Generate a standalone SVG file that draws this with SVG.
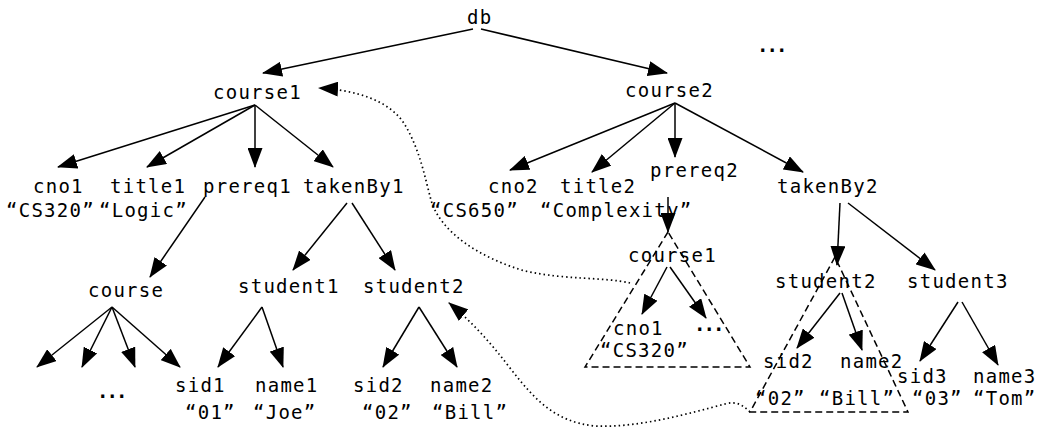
<svg xmlns="http://www.w3.org/2000/svg" width="1043" height="436" viewBox="0 0 1043 436">
<style>
text{font-family:"DejaVu Sans Mono","Liberation Mono",monospace;font-size:19px;letter-spacing:1.26px;fill:#000}
.dots{letter-spacing:-2px;font-weight:bold}
.e{stroke:#000;stroke-width:1.5;fill:none;marker-end:url(#ah)}
.dt{stroke:#000;stroke-width:1.7;fill:none;stroke-dasharray:1.5 3;marker-end:url(#ah)}
.tri{stroke:#000;stroke-width:1.5;fill:none;stroke-dasharray:7 4}
</style>
<defs>
<marker id="ah" viewBox="0 0 20 15" markerWidth="20" markerHeight="15" refX="19" refY="7.5" orient="auto" markerUnits="userSpaceOnUse">
<path d="M0,0 L20,7.5 L0,15 z" fill="#000"/>
</marker>
</defs>
<rect width="1043" height="436" fill="#fff"/>
<g id="connectors">
<line class="e" x1="473" y1="29" x2="263" y2="73"/>
<line class="e" x1="481" y1="29" x2="667" y2="73"/>
<line class="e" x1="255" y1="105" x2="58" y2="167"/>
<line class="e" x1="255" y1="105" x2="147" y2="167"/>
<line class="e" x1="255" y1="105" x2="255" y2="167"/>
<line class="e" x1="255" y1="105" x2="333" y2="167"/>
<line class="e" x1="675" y1="103" x2="510" y2="170"/>
<line class="e" x1="675" y1="103" x2="592" y2="172"/>
<line class="e" x1="675" y1="103" x2="675" y2="157"/>
<line class="e" x1="675" y1="103" x2="803" y2="172"/>
<line class="e" x1="205" y1="197" x2="150" y2="277"/>
<line class="e" x1="347" y1="203" x2="293" y2="270"/>
<line class="e" x1="352" y1="203" x2="395" y2="270"/>
<line class="e" x1="112" y1="307" x2="37" y2="367"/>
<line class="e" x1="112" y1="307" x2="82" y2="367"/>
<line class="e" x1="112" y1="307" x2="135" y2="367"/>
<line class="e" x1="112" y1="307" x2="180" y2="367"/>
<line class="e" x1="262" y1="307" x2="218" y2="367"/>
<line class="e" x1="262" y1="307" x2="283" y2="367"/>
<line class="e" x1="419" y1="307" x2="383" y2="367"/>
<line class="e" x1="419" y1="307" x2="457" y2="367"/>
<line class="e" x1="668" y1="197" x2="668" y2="232"/>
<line class="e" x1="667" y1="267" x2="642" y2="314"/>
<line class="e" x1="670" y1="267" x2="706" y2="318"/>
<line class="e" x1="840" y1="203" x2="837" y2="265"/>
<line class="e" x1="848" y1="203" x2="935" y2="270"/>
<line class="e" x1="840" y1="293" x2="797" y2="348"/>
<line class="e" x1="842" y1="293" x2="862" y2="350"/>
<line class="e" x1="958" y1="302" x2="920" y2="361"/>
<line class="e" x1="962" y1="302" x2="998" y2="365"/>
<path class="dt" d="M630,283 C605,277 565,280 525,271 C480,258 440,232 431,200 C425,178 420,150 405,125 C390,100 355,90 319,88"/>
<path class="dt" d="M750,412 C742,404 735,401 725,404 C690,413 640,428 595,426 C555,422 535,400 510,368 C490,342 472,322 449,303"/>
</g>
<g id="subtrees">
<polygon class="tri" points="668,232 585,367 750,367"/>
<polygon class="tri" points="835,257 750,412 908,412"/>
</g>
<g id="db"><text x="467" y="24">db</text></g>
<g id="more"><text class="dots" x="757" y="52">...</text></g>
<g id="course1"><text x="213" y="99">course1</text></g>
<g id="course2"><text x="625" y="97">course2</text></g>
<g id="cno1"><text x="33" y="193">cno1</text><text x="6" y="217">“CS320”</text></g>
<g id="title1"><text x="110" y="193">title1</text><text x="99" y="217">“Logic”</text></g>
<g id="prereq1"><text x="203" y="193">prereq1</text></g>
<g id="takenBy1"><text x="303" y="193">takenBy1</text></g>
<g id="cno2"><text x="488" y="193">cno2</text><text x="430" y="217">“CS650”</text></g>
<g id="title2"><text x="560" y="193">title2</text><text x="540" y="217">“Complexity”</text></g>
<g id="prereq2"><text x="650" y="177">prereq2</text></g>
<g id="takenBy2"><text x="777" y="193">takenBy2</text></g>
<g id="course"><text x="88" y="297">course</text><text class="dots" x="97" y="398">...</text></g>
<g id="student1"><text x="238" y="293">student1</text></g>
<g id="student2a"><text x="363" y="293">student2</text></g>
<g id="sid1"><text x="175" y="392">sid1</text><text x="185" y="419">“01”</text></g>
<g id="name1"><text x="255" y="392">name1</text><text x="253" y="419">“Joe”</text></g>
<g id="sid2a"><text x="353" y="392">sid2</text><text x="362" y="419">“02”</text></g>
<g id="name2a"><text x="430" y="392">name2</text><text x="432" y="419">“Bill”</text></g>
<g id="course1ref"><text x="628" y="262">course1</text></g>
<g id="cno1ref"><text x="613" y="335">cno1</text><text x="600" y="357">“CS320”</text></g>
<g id="moreref"><text class="dots" x="694" y="331">...</text></g>
<g id="student2b"><text x="775" y="288">student2</text></g>
<g id="student3"><text x="907" y="288">student3</text></g>
<g id="sid2b"><text x="763" y="368">sid2</text><text x="755" y="405">“02”</text></g>
<g id="name2b"><text x="840" y="368">name2</text><text x="819" y="405">“Bill”</text></g>
<g id="sid3"><text x="897" y="383">sid3</text><text x="912" y="405">“03”</text></g>
<g id="name3"><text x="973" y="383">name3</text><text x="973" y="405">“Tom”</text></g>
</svg>
